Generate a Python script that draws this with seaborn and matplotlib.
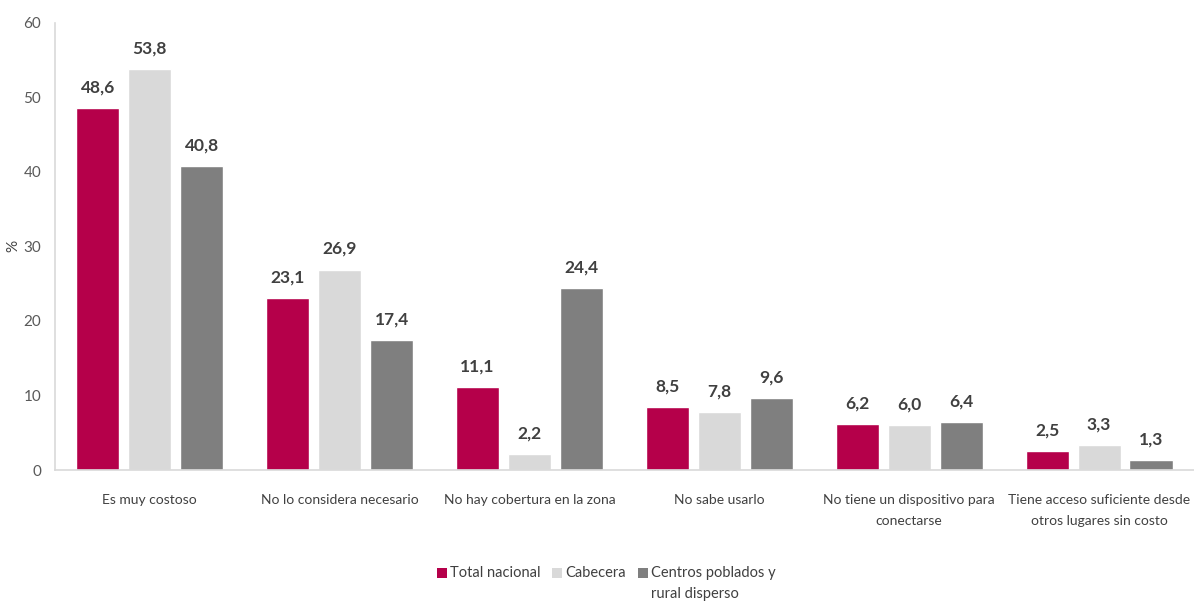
import matplotlib
matplotlib.use("Agg")
import matplotlib.pyplot as plt
import seaborn as sns
import pandas as pd
from matplotlib.patches import Rectangle

categories = [
    "Es muy costoso",
    "No lo considera necesario",
    "No hay cobertura en la zona",
    "No sabe usarlo",
    "No tiene un dispositivo para\nconectarse",
    "Tiene acceso suficiente desde\notros lugares sin costo",
]
series = ["Total nacional", "Cabecera", "Centros poblados y\nrural disperso"]
total_nacional = [48.6, 23.1, 11.1, 8.5, 6.2, 2.5]
cabecera = [53.8, 26.9, 2.2, 7.8, 6.0, 3.3]
centros_rural = [40.8, 17.4, 24.4, 9.6, 6.4, 1.3]
y_ticks = [0, 10, 20, 30, 40, 50, 60]

colors = ["#B5004A", "#D9D9D9", "#7F7F7F"]

rows = []
for s, vals in zip(series, [total_nacional, cabecera, centros_rural]):
    for c, v in zip(categories, vals):
        rows.append({"cat": c, "serie": s, "valor": v})
df = pd.DataFrame(rows)

sns.set_style("white")
plt.rcParams["font.family"] = ["Lato", "DejaVu Sans"]
text_color = "#404040"

W, H = 1194, 606
fig = plt.figure(figsize=(W / 100, H / 100), dpi=100)
ax = fig.add_axes([0.046, 0.2244, 0.954, 0.738])

sns.barplot(data=df, x="cat", y="valor", hue="serie", order=categories,
            hue_order=series, palette=colors, width=0.82, gap=0.17,
            saturation=1, legend=False, ax=ax)

for cont in ax.containers:
    labels = [f"{b.get_height():.1f}".replace(".", ",") for b in cont]
    ax.bar_label(cont, labels=labels, padding=9, fontsize=12.5,
                 fontweight="bold", color=text_color)

ax.set_ylim(0, 60)
ax.set_yticks(y_ticks)
ax.set_yticklabels([str(t) for t in y_ticks], fontsize=11, color="#595959")
ax.set_xlim(-0.5, len(categories) - 0.5)
ax.set_xticks(range(len(categories)))
ax.set_xticklabels(categories, linespacing=1.95)
ax.set_xlabel("")
ax.set_ylabel("%", fontsize=11, color=text_color)
ax.yaxis.set_label_coords(-0.03, 0.5)
ax.tick_params(axis="x", length=0, pad=17, labelsize=10, labelcolor=text_color)
ax.tick_params(axis="y", length=4, color="#D9D9D9", width=1, pad=6)

for side in ["top", "right"]:
    ax.spines[side].set_visible(False)
for side in ["left", "bottom"]:
    ax.spines[side].set_color("#D9D9D9")
    ax.spines[side].set_linewidth(1.2)

# Legend: square swatches with labels aligned on their first line
legend_x = [437, 552, 638]
swatch = 10
row_center = 573
for x0, col, lab in zip(legend_x, colors, series):
    fig.add_artist(Rectangle((x0 / W, 1 - (row_center + swatch / 2) / H),
                             swatch / W, swatch / H, facecolor=col,
                             edgecolor="none", transform=fig.transFigure))
    fig.text((x0 + swatch + 3) / W, 1 - (row_center - 7) / H, lab,
             ha="left", va="top", fontsize=10.5, color=text_color,
             linespacing=1.65)

fig.savefig("out.png", dpi=100)
